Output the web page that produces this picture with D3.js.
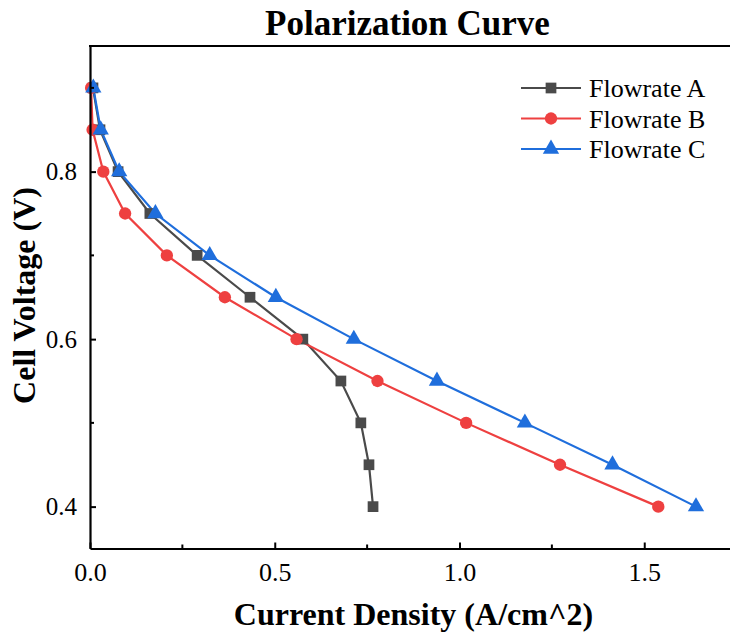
<!DOCTYPE html>
<html><head><meta charset="utf-8">
<script src="https://cdn.jsdelivr.net/npm/d3@7"></script>
</head><body style="margin:0">
<svg id="c" width="730" height="635"></svg>
<script>
const voltages = [0.9, 0.85, 0.8, 0.75, 0.7, 0.65, 0.6, 0.55, 0.5, 0.45, 0.4];
const flowA = [0.008, 0.027, 0.076, 0.162, 0.29, 0.433, 0.576, 0.679, 0.733, 0.755, 0.766];
const flowB = [0.003, 0.007, 0.036, 0.095, 0.208, 0.365, 0.559, 0.778, 1.018, 1.272, 1.538];
const flowC = [0.009, 0.029, 0.079, 0.177, 0.324, 0.503, 0.714, 0.939, 1.177, 1.414, 1.640];
const seriesNames = ["Flowrate A", "Flowrate B", "Flowrate C"];
const xTicks = [0, 0.5, 1.0, 1.5];
const xMinor = [0.25, 0.75, 1.25, 1.75];
const yTicks = [0.4, 0.6, 0.8];
const yMinor = [0.5, 0.7, 0.9];

const colors = ["#4a4a4a", "#ee4040", "#1f6edc"];
const symbols = [d3.symbolSquare, d3.symbolCircle, d3.symbolTriangle];
const symSizes = [115, 120, 115];
const series = [flowA, flowB, flowC];
const FAM = "Liberation Serif";

const svg = d3.select("#c");
const L = 90, T = 46, B = 548.5;
const x = d3.scaleLinear().domain([0, 1.75]).range([L, L + 369.5 * 1.75]);
const y = d3.scaleLinear().domain([0.35, 0.95]).range([B, T]);

function txt(sel, size, bold) {
  return sel.attr("font-family", FAM).attr("font-size", size)
    .attr("font-weight", bold ? "bold" : null).attr("fill", "#000");
}

const line = d3.line().x(d => x(d[0])).y(d => y(d[1]));
series.forEach((s, i) => {
  const pts = s.map((v, j) => [v, voltages[j]]);
  svg.append("path").datum(pts).attr("d", line)
    .attr("fill", "none").attr("stroke", colors[i]).attr("stroke-width", 2.2);
});
series.forEach((s, i) => {
  svg.append("g").selectAll("path").data(s.map((v, j) => [v, voltages[j]])).join("path")
    .attr("d", d3.symbol().type(symbols[i]).size(symSizes[i]))
    .attr("transform", d => `translate(${x(d[0])},${y(d[1])})`)
    .attr("fill", colors[i]);
});

const ax = svg.append("g").attr("transform", `translate(0,${B})`)
  .call(d3.axisBottom(x).tickValues(xTicks).tickFormat(d3.format(".1f")).tickSizeInner(-6).tickSizeOuter(0));
ax.attr("font-family", FAM);
ax.select(".domain").attr("stroke-width", 2.2);
ax.selectAll(".tick line").attr("stroke-width", 2);
txt(ax.selectAll("text"), 26, false).attr("y", 32.5).attr("dy", null);
svg.append("g").selectAll("line").data(xMinor).join("line")
  .attr("x1", d => x(d)).attr("x2", d => x(d)).attr("y1", B).attr("y2", B - 4)
  .attr("stroke", "#000").attr("stroke-width", 2);

const ay = svg.append("g").attr("transform", `translate(${L},0)`)
  .call(d3.axisLeft(y).tickValues(yTicks).tickFormat(d3.format(".1f")).tickSizeInner(-6).tickSizeOuter(0).tickPadding(13));
ay.attr("font-family", FAM);
ay.select(".domain").attr("stroke-width", 2.2);
ay.selectAll(".tick line").attr("stroke-width", 2);
txt(ay.selectAll("text"), 25, false);
svg.append("g").selectAll("line").data(yMinor).join("line")
  .attr("x1", L).attr("x2", L + 4).attr("y1", d => y(d)).attr("y2", d => y(d))
  .attr("stroke", "#000").attr("stroke-width", 2);

svg.append("line").attr("x1", L - 1).attr("x2", 740).attr("y1", T).attr("y2", T)
  .attr("stroke", "#000").attr("stroke-width", 2.2);

txt(svg.append("text").attr("x", 407.5).attr("y", 35).attr("text-anchor", "middle"), 35, true).text("Polarization Curve");
txt(svg.append("text").attr("x", 413.5).attr("y", 625).attr("text-anchor", "middle"), 32, true).text("Current Density (A/cm^2)");
txt(svg.append("text").attr("transform", "translate(35,295.5) rotate(-90)").attr("text-anchor", "middle"), 32, true).text("Cell Voltage (V)");

const lg = svg.append("g");
seriesNames.forEach((n, i) => {
  const yy = 88 + i * 30.5;
  lg.append("line").attr("x1", 521).attr("x2", 581).attr("y1", yy).attr("y2", yy)
    .attr("stroke", colors[i]).attr("stroke-width", 2.2);
  lg.append("path").attr("d", d3.symbol().type(symbols[i]).size(symSizes[i])())
    .attr("transform", `translate(551,${yy})`).attr("fill", colors[i]);
  txt(lg.append("text").attr("x", 589).attr("y", yy + 9), 26, false).text(n);
});
</script>
</body></html>
